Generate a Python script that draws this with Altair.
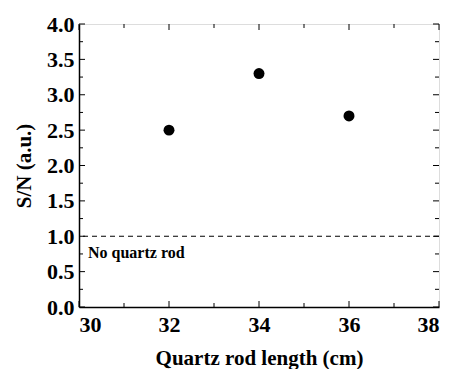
import altair as alt
import pandas as pd

lengths = [32, 34, 36]
sn = [2.5, 3.3, 2.7]
baseline = [1.0]
note = ["No quartz rod"]
x_major = [30, 32, 34, 36, 38]
x_minor = [31, 33, 35, 37]
y_major = [0.0, 0.5, 1.0, 1.5, 2.0, 2.5, 3.0, 3.5, 4.0]
y_minor = [0.25, 0.75, 1.25, 1.75, 2.25, 2.75, 3.25, 3.75]

W, H = 360, 283
FONT = "Liberation Serif"
xs = alt.Scale(domain=[30, 38], nice=False)
ys = alt.Scale(domain=[0, 4], nice=False)

AX_X = alt.Axis(values=x_major, format="d", ticks=False, grid=False,
                labelOverlap=False, domainColor="black", domainWidth=1.5,
                labelFont=FONT, labelFontWeight="bold", labelFontSize=22,
                labelColor="black", labelPadding=7,
                titleFont=FONT, titleFontWeight="bold", titleFontSize=21,
                titleColor="black", titlePadding=12)
AX_Y = alt.Axis(values=y_major, format=".1f", ticks=False, grid=False,
                labelOverlap=False, domainColor="black", domainWidth=1.5,
                labelFont=FONT, labelFontWeight="bold", labelFontSize=22,
                labelColor="black", labelPadding=5,
                titleFont=FONT, titleFontWeight="bold", titleFontSize=21,
                titleColor="black", titlePadding=12)
XT = "Quartz rod length (cm)"
YT = "S/N (a.u.)"

def X(f="x"):
    return alt.X(f + ":Q", scale=xs, axis=AX_X, title=XT)

def Y(f="y"):
    return alt.Y(f + ":Q", scale=ys, axis=AX_Y, title=YT)

pts_df = pd.DataFrame({"x": lengths, "y": sn})
pts = alt.Chart(pts_df).mark_circle(size=120, color="black", opacity=1).encode(x=X(), y=Y())

line = alt.Chart(pd.DataFrame({"y": baseline})).mark_rule(
    color="black", strokeDash=[5, 4], strokeWidth=1.2
).encode(y=Y())

txt = alt.Chart(pd.DataFrame({"x": [30.2], "y": [0.77], "t": note})).mark_text(
    font=FONT, fontWeight="bold", fontSize=16, align="left", baseline="middle", color="black"
).encode(x=X(), y=Y(), text="t:N")

def xticks(vals, L):
    df = pd.DataFrame({"x": vals})
    b = alt.Chart(df).mark_rule(color="black", strokeWidth=1).encode(
        x=X(), y=alt.value(H), y2=alt.value(H - L))
    t = alt.Chart(df).mark_rule(color="black", strokeWidth=1).encode(
        x=X(), y=alt.value(0), y2=alt.value(L))
    return b + t

def yticks(vals, L):
    df = pd.DataFrame({"y": vals})
    l = alt.Chart(df).mark_rule(color="black", strokeWidth=1).encode(
        y=Y(), x=alt.value(0), x2=alt.value(L))
    r = alt.Chart(df).mark_rule(color="black", strokeWidth=1).encode(
        y=Y(), x=alt.value(W), x2=alt.value(W - L))
    return l + r

chart = alt.layer(
    pts, line, txt,
    xticks(x_major, 6), xticks(x_minor, 4),
    yticks(y_major, 6), yticks(y_minor, 4),
).properties(
    width=W, height=H,
    autosize=alt.AutoSizeParams(type="none"),
    padding={"left": 79, "top": 24, "right": 12, "bottom": 62},
).configure_view(stroke="black", strokeWidth=1).configure(background="white")

chart.save("out.html", embed_options={"renderer": "svg", "actions": False})
